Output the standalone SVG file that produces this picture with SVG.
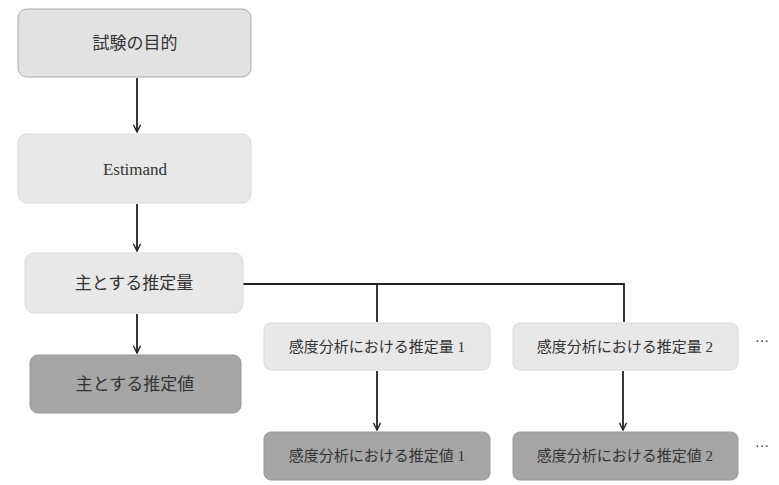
<svg xmlns="http://www.w3.org/2000/svg" width="779" height="485" viewBox="0 0 779 485">
<defs>
<marker id="ah" viewBox="0 0 10 10" refX="9" refY="5" markerWidth="9" markerHeight="9" orient="auto" markerUnits="userSpaceOnUse"><path d="M1,1 L9,5 L1,9" fill="none" stroke="#222" stroke-width="1.6"/></marker>
<style>
.t{font-family:"Liberation Serif","Noto Sans CJK JP",serif;fill:#333;text-anchor:middle;dominant-baseline:central}
.l{fill:#e8e8e8;stroke:#dadada;stroke-width:1}
.d{fill:#a6a6a6;stroke:#999;stroke-width:1}
.c{fill:none;stroke:#222;stroke-width:1.8}
</style>
</defs>
<rect width="779" height="485" fill="#fff"/>
<g id="connectors">
<path class="c" d="M137,78 V132" marker-end="url(#ah)"/>
<path class="c" d="M137,204 V251" marker-end="url(#ah)"/>
<path class="c" d="M137,314 V353" marker-end="url(#ah)"/>
<path class="c" d="M243,284 H624 V322"/>
<path class="c" d="M377,284 V322"/>
<path class="c" d="M377,371 V430" marker-end="url(#ah)"/>
<path class="c" d="M623,371 V430" marker-end="url(#ah)"/>
</g>
<g id="n1"><rect x="18" y="9" width="233" height="68" rx="9" fill="#e2e2e2" stroke="#aaa"/><text class="t" x="135" y="43" font-size="17">試験の目的</text></g>
<g id="n2"><rect class="l" x="18" y="134" width="233" height="69" rx="9"/><text class="t" x="135" y="169" font-size="17">Estimand</text></g>
<g id="n3"><rect class="l" x="25" y="253" width="218" height="60" rx="9"/><text class="t" x="134" y="283" font-size="17">主とする推定量</text></g>
<g id="n4"><rect class="d" x="30" y="355" width="211" height="58" rx="8"/><text class="t" x="135" y="384" font-size="17">主とする推定値</text></g>
<g id="s1"><rect class="l" x="264" y="323" width="226" height="47" rx="7"/><text class="t" x="377" y="347" font-size="15">感度分析における推定量 1</text></g>
<g id="s2"><rect class="l" x="513" y="323" width="225" height="47" rx="7"/><text class="t" x="625" y="347" font-size="15">感度分析における推定量 2</text></g>
<g id="v1"><rect class="d" x="264" y="432" width="226" height="48" rx="7"/><text class="t" x="377" y="456" font-size="15">感度分析における推定値 1</text></g>
<g id="v2"><rect class="d" x="513" y="432" width="225" height="48" rx="7"/><text class="t" x="625" y="456" font-size="15">感度分析における推定値 2</text></g>
<text class="t" x="762" y="337" font-size="14">…</text>
<text class="t" x="762" y="442" font-size="14">…</text>
</svg>
